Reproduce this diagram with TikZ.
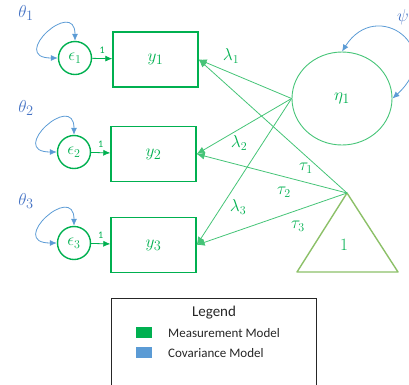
\documentclass[tikz,border=0pt]{standalone}
\usepackage[no-math]{fontspec}
\setmainfont{Carlito}
\usetikzlibrary{arrows.meta,shapes.geometric}
\definecolor{mgreen}{HTML}{00B050}
\definecolor{lgreen}{HTML}{45C477}
\definecolor{cblue}{HTML}{5B9BD5}
\definecolor{tblue}{HTML}{4472C4}
\definecolor{trigreen}{HTML}{8CC068}
\definecolor{legtext}{HTML}{262626}
\begin{document}
\begin{tikzpicture}[x=1pt,y=-1pt,
  meas/.style={draw=mgreen, line width=1.4pt},
  latent/.style={meas, circle, minimum size=33pt, inner sep=0pt, text=mgreen, font=\fontsize{17}{19}\selectfont},
  obs/.style={meas, rectangle, minimum width=85pt, minimum height=55pt, text=mgreen, font=\fontsize{19}{21}\selectfont},
  fixarrow/.style={draw=mgreen, line width=0.8pt, -{Latex[length=7pt,width=6pt]}},
  load/.style={draw=lgreen, line width=0.8pt, -{Latex[length=8pt,width=7pt]}},
  cov/.style={draw=cblue, line width=0.8pt, {Latex[length=7pt,width=6pt]}-{Latex[length=7pt,width=6pt]}},
  lab/.style={text=mgreen, font=\fontsize{17}{19}\selectfont},
  vlab/.style={text=tblue, font=\fontsize{19}{21}\selectfont},
  onelab/.style={midway, above=1pt, text=mgreen, font=\fontsize{10}{11}\selectfont},
  legitem/.style={anchor=west, inner sep=0pt, text=legtext, font=\fontsize{13}{15}\selectfont},
  swatch/.style={minimum width=16pt, minimum height=11pt, inner sep=0pt},
]
\useasboundingbox (0,0) rectangle (409,384);

% latent error nodes
\node[latent] (e1) at (75,58) {$\epsilon_1$};
\node[latent] (e2) at (74,152) {$\epsilon_2$};
\node[latent] (e3) at (74,243) {$\epsilon_3$};

% observed
\node[obs] (y1) at (155.5,59.5) {$y_1$};
\node[obs] (y2) at (153.5,154) {$y_2$};
\node[obs] (y3) at (153.5,245) {$y_3$};

% factor
\node[draw=lgreen, line width=0.9pt, ellipse, minimum width=100pt, minimum height=93pt, text=mgreen, font=\fontsize{19}{21}\selectfont] (eta) at (342,98.5) {$\eta_1$};

% intercept triangle
\coordinate (apex) at (347,193);
\coordinate (bl) at (297,272);
\coordinate (br) at (398,272);
\draw[trigreen, line width=1.4pt, line join=round] (apex) -- (bl) -- (br) -- cycle;
\node[lab, font=\fontsize{18}{20}\selectfont] (one) at (344,245) {$1$};

% fixed paths
\draw[fixarrow] (e1) -- (y1) node[onelab] {1};
\draw[fixarrow] (e2) -- (y2) node[onelab] {1};
\draw[fixarrow] (e3) -- (y3) node[onelab] {1};

% loadings
\draw[load] (eta.west) -- (y1.east);
\draw[load] (eta.west) -- (y2.east);
\draw[load] (eta.west) -- (y3.east);
\draw[load] (apex) -- (y1.east);
\draw[load] (apex) -- (y2.east);
\draw[load] (apex) -- (y3.east);

\node[lab] (l1) at (231,56) {$\lambda_1$};
\node[lab] (l2) at (239,143) {$\lambda_2$};
\node[lab] (l3) at (238,207) {$\lambda_3$};
\node[lab] (t1) at (306,168) {$\tau_1$};
\node[lab] (t2) at (284,192) {$\tau_2$};
\node[lab] (t3) at (298,226) {$\tau_3$};

% variances
\draw[cov] (e1.west) .. controls +(-50,0) and +(0,-44) .. (e1.north);
\draw[cov] (e2.west) .. controls +(-50,0) and +(0,-44) .. (e2.north);
\draw[cov] (e3.west) .. controls +(-50,0) and +(0,-44) .. (e3.north);
\draw[cov] (eta.north) .. controls +(35,-55) and +(55,-50) .. (eta.east);

\node[vlab] (th1) at (26,13) {$\theta_1$};
\node[vlab] (th2) at (26,108) {$\theta_2$};
\node[vlab] (th3) at (26,201) {$\theta_3$};
\node[vlab, anchor=east, inner sep=0pt] (psi) at (409,17) {$\psi$};

% legend
\draw[draw=legtext, line width=0.9pt] (111,400) -- (111,298) -- (316,298) -- (316,400);
\node[inner sep=0pt, text=legtext, font=\fontsize{15}{17}\selectfont] (leg) at (214,313) {Legend};
\node[swatch, fill=mgreen] (gsq) at (144,332.5) {};
\node[swatch, fill=cblue] (bsq) at (144,352) {};
\node[legitem] (gt) at (168,333) {Measurement Model};
\node[legitem] (bt) at (168,353) {Covariance Model};
\end{tikzpicture}
\end{document}
